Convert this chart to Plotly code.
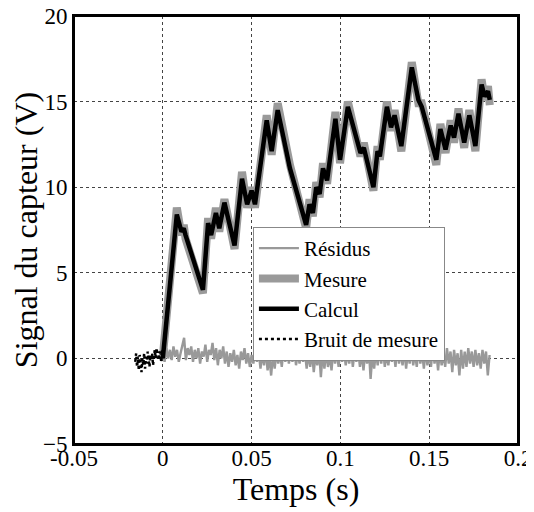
import numpy as np
import plotly.graph_objects as go

# ---- data ----
SIG_T = [0.0000, 0.0079, 0.0105, 0.0118, 0.0128, 0.0226, 0.0255, 0.0272, 0.0299, 0.0318,
         0.0347, 0.0404, 0.0446, 0.0475, 0.0500, 0.0519, 0.0585, 0.0613, 0.0647, 0.0716,
         0.0807, 0.0826, 0.0845, 0.0864, 0.0883, 0.0902, 0.0925, 0.0972, 0.0998, 0.1042,
         0.1113, 0.1132, 0.1186, 0.1209, 0.1222, 0.1262, 0.1285, 0.1305, 0.1343, 0.1402,
         0.1439, 0.1458, 0.1540, 0.1563, 0.1592, 0.1621, 0.1640, 0.1665, 0.1697, 0.1726,
         0.1760, 0.1795, 0.1812, 0.1831, 0.1841]
CALCUL = [0.0, 8.4, 7.4, 7.6, 7.2, 4.0, 7.9, 7.2, 8.5, 7.6,
          9.1, 6.6, 10.5, 9.0, 9.8, 9.0, 13.9, 12.1, 14.5, 11.1,
          7.8, 9.0, 8.5, 10.0, 9.6, 11.1, 10.4, 14.0, 11.6, 14.7,
          12.0, 12.3, 10.0, 12.1, 11.8, 14.7, 13.5, 14.2, 12.4, 17.0,
          15.1, 14.7, 11.6, 13.4, 12.2, 13.6, 12.9, 14.3, 12.6, 14.2,
          12.4, 16.0, 15.3, 15.6, 15.1]
MESURE = [0.1, 8.8, 7.2, 7.8, 7.0, 3.8, 8.2, 7.0, 8.8, 7.4,
          9.3, 6.4, 10.9, 8.8, 10.0, 8.8, 14.2, 11.9, 14.9, 11.3,
          7.6, 9.3, 8.3, 10.3, 9.4, 11.4, 10.2, 14.4, 11.4, 15.0,
          11.8, 12.6, 9.8, 12.4, 11.6, 15.0, 13.3, 14.5, 12.1, 17.3,
          14.9, 14.9, 11.3, 13.7, 12.0, 13.9, 12.6, 14.6, 12.3, 14.5,
          12.1, 16.3, 15.1, 15.9, 14.8]

RES_T0 = 0.0
RES_DT = 0.001
RESIDUS = [0.4, -0.2, 0.6, 0.0, 0.5, -0.1, 0.7, 0.1, 0.5, -0.2,
           0.3, 0.8, 1.2, -0.1, 0.6, 0.2, 0.7, -0.2, 0.5, 0.0,
           0.6, -0.3, 0.4, 0.1, 0.8, -0.2, 0.5, 0.2, 0.9, -0.1,
           0.6, -0.4, 0.5, 0.0, 0.7, -0.3, 0.4, -0.5, 0.3, -0.2,
           0.5, -0.4, 0.2, -0.6, 0.4, -0.1, 0.6, -0.3, 0.3, -0.5,
           0.2, -0.3, 0.5, -0.2, 0.4, -0.6, 0.3, -0.4, 0.5, -0.7,
           0.1, -1.0, 0.2, -0.6, 0.4, -0.3, 0.3, -0.5, 0.6, -0.2,
           0.5, -0.3, 0.4, -0.2, 0.6, -0.4, 0.3, -0.3, 0.5, -0.2,
           0.4, -0.6, 0.3, -0.5, 0.4, -0.8, 0.2, -0.4, 0.5, -1.1,
           0.3, -0.6, 0.4, -0.5, 0.2, -0.7, 0.5, -0.3, 0.4, -0.5,
           0.6, -0.2, 0.5, -0.4, 0.3, -0.3, 0.6, -0.5, 0.4, -0.2,
           0.5, -0.5, 0.3, -0.7, 0.4, -0.3, 0.6, -1.2, 0.2, -0.6,
           0.4, -0.4, 0.5, -0.3, 0.6, -0.5, 0.3, -0.4, 0.5, -0.2,
           0.4, -0.5, 0.6, -0.3, 0.3, -0.4, 0.5, -0.6, 0.4, -0.3,
           0.5, -0.4, 0.3, -0.5, 0.6, -0.3, 0.4, -0.6, 0.5, -0.4,
           0.3, -0.5, 0.6, -0.3, 0.4, -0.7, 0.5, -0.4, 0.3, -0.5,
           0.6, -0.3, 0.4, -0.8, 0.5, -0.4, 0.3, -1.0, 0.5, -0.6,
           0.4, -0.5, 0.6, -0.3, 0.4, -0.5, 0.5, -0.4, 0.3, -0.6,
           0.5, -0.3, 0.4, -1.0, 0.2]

BRUIT_T0 = -0.0155
BRUIT_DT = 0.0005
BRUIT = [-0.2, 0.3, -0.5, 0.1, -0.7, 0.2, -0.3, -0.8, 0.0, -0.4,
         0.3, -0.6, 0.1, -0.3, 0.4, -0.2, -0.5, 0.2, -0.1, 0.3,
         -0.4, 0.1, 0.5, 0.0, 0.6, 0.2, -0.1, 0.4, 0.3, -0.2,
         0.5, 0.0]

X_TICKS = [-0.05, 0, 0.05, 0.1, 0.15, 0.2]
X_LABELS = ["-0.05", "0", "0.05", "0.1", "0.15", "0.2"]
Y_TICKS = [-5, 0, 5, 10, 15, 20]

res_t = RES_T0 + RES_DT * np.arange(len(RESIDUS))
bruit_t = BRUIT_T0 + BRUIT_DT * np.arange(len(BRUIT))

FONT = "Liberation Serif"

fig = go.Figure()
fig.add_trace(go.Scatter(x=res_t, y=RESIDUS, mode="lines", name="Résidus",
                         line=dict(color="#999999", width=2.4)))
fig.add_trace(go.Scatter(x=SIG_T, y=MESURE, mode="lines", name="Mesure",
                         line=dict(color="#9a9a9a", width=8)))
fig.add_trace(go.Scatter(x=SIG_T, y=CALCUL, mode="lines", name="Calcul",
                         line=dict(color="black", width=4.5)))
fig.add_trace(go.Scatter(x=bruit_t, y=BRUIT, mode="lines", name="Bruit de mesure",
                         line=dict(color="black", width=2.5, dash="dot")))

axis_common = dict(showline=True, linecolor="black", linewidth=2, mirror=True,
                   showgrid=True, gridcolor="#444444", gridwidth=1, griddash="dot",
                   zeroline=False, ticks="", automargin=False,
                   ticklabeloverflow="allow",
                   tickfont=dict(family=FONT, size=23, color="black"))

fig.update_xaxes(range=[-0.05, 0.2], tickvals=X_TICKS, ticktext=X_LABELS,
                 ticklabelstandoff=-8,
                 title=dict(text="Temps (s)", font=dict(family=FONT, size=32, color="black"),
                            standoff=6),
                 **axis_common)
fig.update_yaxes(range=[-5, 20], tickvals=Y_TICKS,
                 title=dict(text="Signal du capteur (V)",
                            font=dict(family=FONT, size=32, color="black"), standoff=4),
                 **axis_common)

# plot frame drawn as a paper-referenced rectangle so all four sides show
fig.add_shape(type="rect", xref="paper", yref="paper", x0=0, x1=1, y0=0, y1=1,
              line=dict(color="black", width=2), layer="above")

# the page body adds an 8px margin, so offsets are reduced by 8px
fig.update_layout(
    width=534, height=512,
    margin=dict(l=66, r=24, t=8, b=76),
    paper_bgcolor="white", plot_bgcolor="white",
    font=dict(family=FONT, color="black"),
    showlegend=True,
    legend=dict(x=0.403, y=0.507, xanchor="left", yanchor="top",
                bgcolor="white", bordercolor="#888888", borderwidth=1,
                font=dict(family=FONT, size=21, color="black"),
                tracegroupgap=0, itemwidth=40),
)

fig.write_html("out.html")
